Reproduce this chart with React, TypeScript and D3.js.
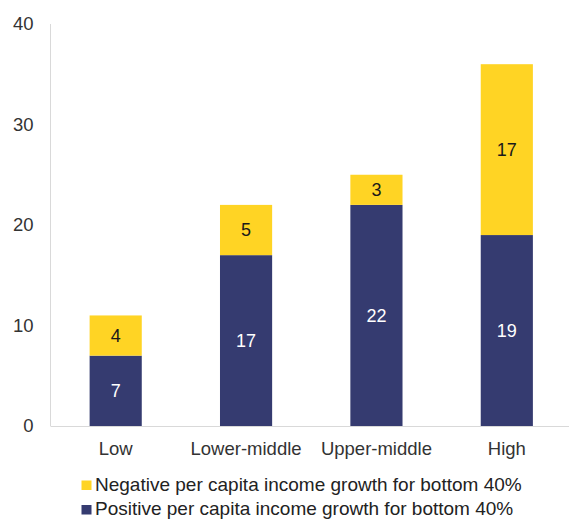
import React from "react";
import * as d3 from "d3";

const categories = ["Low", "Lower-middle", "Upper-middle", "High"];
const positiveValues = [7, 17, 22, 19];
const negativeValues = [4, 5, 3, 17];
const yTicks = [0, 10, 20, 30, 40];
const seriesNames = [
  "Negative per capita income growth for bottom 40%",
  "Positive per capita income growth for bottom 40%",
];

const NAVY = "#353B70";
const YELLOW = "#FFD424";
const FONT = "Liberation Sans, Arial, sans-serif";

export default function App() {
  const W = 569;
  const H = 520;
  const x = d3.scaleBand<string>().domain(categories).range([50.5, 572]).paddingInner(0.6).paddingOuter(0.3);
  const y = d3.scaleLinear().domain([0, 40]).range([426, 24]);
  const bw = x.bandwidth();

  return (
    <svg width={W} height={H} style={{ position: "absolute", left: 0, top: 0 }} fontFamily={FONT}>
      <rect width={W} height={H} fill="#fff" />
      {categories.map((c, i) => {
        const x0 = x(c)!;
        const p = positiveValues[i];
        const n = negativeValues[i];
        return (
          <g key={c}>
            <rect x={x0} y={y(p)} width={bw} height={y(0) - y(p)} fill={NAVY} />
            <rect x={x0} y={y(p + n)} width={bw} height={y(p) - y(p + n)} fill={YELLOW} />
            <text x={x0 + bw / 2} y={(y(0) + y(p)) / 2} dy="0.35em" textAnchor="middle" fontSize={18} fill="#fff">
              {p}
            </text>
            <text x={x0 + bw / 2} y={(y(p) + y(p + n)) / 2} dy="0.35em" textAnchor="middle" fontSize={18} fill="#1a1a1a">
              {n}
            </text>
            <text x={x0 + bw / 2} y={455} textAnchor="middle" fontSize={18.5} fill="#333">
              {c}
            </text>
          </g>
        );
      })}
      <line x1={50.5} x2={50.5} y1={y(40)} y2={y(0)} stroke="#D9D9D9" strokeWidth={1} />
      <line x1={50.5} x2={569} y1={y(0) + 0.5} y2={y(0) + 0.5} stroke="#D9D9D9" strokeWidth={1} />
      {yTicks.map((t) => (
        <text key={t} x={33.5} y={y(t)} dy="0.35em" textAnchor="end" fontSize={18.5} fill="#333">
          {t}
        </text>
      ))}
      {seriesNames.map((s, i) => (
        <g key={s} transform={`translate(0, ${485 + i * 24.5})`}>
          <rect x={81.5} y={-4.5} width={10} height={9.5} fill={i === 0 ? YELLOW : NAVY} />
          <text x={95} y={5.7} fontSize={19} fill="#222">
            {s}
          </text>
        </g>
      ))}
    </svg>
  );
}
